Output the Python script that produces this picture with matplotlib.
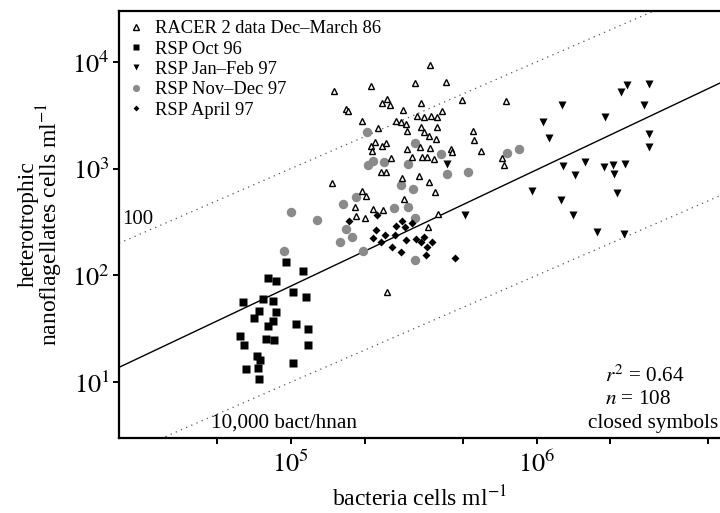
import matplotlib
matplotlib.use("Agg")
from matplotlib import pyplot as plt
import numpy as np

plt.rcParams['font.family'] = ['Liberation Serif', 'DejaVu Serif']
plt.rcParams['mathtext.fontset'] = 'stix'

# RACER 2 data Dec-March 86 (open triangles)
racer_bact = [1.50e5, 1.68e5, 1.71e5, 1.95e5, 2.12e5, 2.26e5, 2.35e5, 2.47e5, 2.54e5, 3.69e5,
              3.21e5, 4.29e5, 3.39e5, 4.99e5, 7.54e5, 2.86e5, 4.13e5, 3.27e5, 3.49e5, 3.73e5,
              3.94e5, 2.68e5, 2.81e5, 2.95e5, 3.39e5, 3.94e5, 2.97e5, 3.49e5, 3.66e5, 3.91e5,
              5.53e5, 5.58e5, 5.96e5, 2.20e5, 2.12e5, 2.35e5, 2.14e5, 2.44e5, 2.97e5, 3.36e5,
              3.69e5, 4.50e5, 4.54e5, 3.12e5, 3.42e5, 3.59e5, 3.83e5, 2.56e5, 7.26e5, 7.40e5,
              2.33e5, 2.44e5, 2.84e5, 3.33e5, 3.66e5, 3.87e5, 2.89e5, 1.47e5, 1.95e5, 2.02e5,
              1.82e5, 1.84e5, 2.00e5, 2.16e5, 2.37e5, 3.98e5, 3.62e5, 2.47e5]
racer_hnan = [5303, 3595, 3444, 2775, 5905, 2386, 4093, 4462, 3920, 9290,
              6300, 6440, 4093, 4367, 4274, 3519, 3444, 3092, 3026, 3092,
              3026, 2775, 2716, 2601, 2438, 2438, 2237, 2189, 2007, 1882,
              2237, 1842, 1453, 1764, 1618, 1618, 1453, 1727, 1517, 1583,
              1550, 1517, 1421, 1276, 1276, 1276, 1222, 1249, 1249, 1074,
              923, 923, 811, 847, 744, 600, 516, 728, 613, 550,
              434, 357, 342, 416, 407, 373, 282, 69.3]

# RSP Oct 96 (squares)
oct96_bact = [9.6e4, 1.12e5, 8.08e4, 8.74e4, 1.02e5, 1.155e5, 6.37e4, 7.7e4, 8.47e4, 7.4e4,
              8.69e4, 7.11e4, 8.47e4, 8.06e4, 1.05e5, 1.18e5, 6.23e4, 7.91e4, 8.55e4, 6.45e4,
              1.18e5, 7.29e4, 7.52e4, 1.02e5, 6.55e4, 7.38e4, 7.4e4]
oct96_hnan = [133, 110, 94, 89, 69.7, 62.2, 56.2, 59.6, 57.9, 46.7,
              45, 39.5, 37.6, 33.3, 35, 31.7, 26.8, 25.5, 24.8, 22.1,
              22.1, 17.5, 16.1, 15.0, 13.4, 13.5, 10.7]

# RSP Jan-Feb 97 (down triangles)
janfeb_bact = [2.33e6, 2.88e6, 2.21e6, 2.73e6, 1.27e6, 1.90e6, 1.06e6, 2.86e6, 1.12e6, 2.86e6,
               1.57e6, 1.28e6, 1.88e6, 2.04e6, 2.29e6, 1.44e6, 2.06e6, 9.6e5, 1.26e6, 2.12e6,
               1.41e6, 1.76e6, 2.26e6, 4.32e5, 5.12e5]
janfeb_hnan = [6075, 6210, 5225, 3945, 3920, 3045, 2735, 2110, 1923, 1608,
               1146, 1058, 1035, 1081, 1114, 879, 890, 617, 505, 587,
               371, 257, 246, 1114, 367]

# RSP Nov-Dec 97 (grey circles)
novdec_bact = [1.0e5, 1.28e5, 1.63e5, 1.84e5, 1.68e5, 1.77e5, 1.58e5, 9.36e4, 1.97e5, 2.04e5,
               2.06e5, 2.16e5, 2.40e5, 3.21e5, 3.0e5, 4.1e5, 4.33e5, 5.28e5, 2.81e5, 3.15e5,
               2.63e5, 3.0e5, 3.21e5, 3.21e5, 7.61e5, 8.52e5]
novdec_hnan = [389, 328, 463, 538, 270, 227, 204, 168, 168, 2189,
               1074, 1171, 1146, 1727, 1097, 1361, 884, 923, 698, 640,
               425, 434, 342, 138, 1391, 1517]

# RSP April 97 (diamonds)
apr97_bact = [1.72e5, 2.24e5, 2.84e5, 3.12e5, 2.68e5, 2.92e5, 2.22e5, 2.42e5, 2.66e5, 2.16e5,
              2.33e5, 2.95e5, 3.24e5, 3.49e5, 2.58e5, 2.81e5, 3.39e5, 3.76e5, 3.59e5, 3.56e5,
              4.67e5]
apr97_hnan = [321, 365, 321, 307, 288, 282, 264, 237, 237, 222,
              204, 213, 218, 227, 183, 164, 204, 204, 183, 157,
              147]

# regression on closed symbols (log-log)
fit_slope = 1.089
fit_intercept = -3.545
ratio_lines = [100, 10000]

fig = plt.figure(figsize=(7.2, 5.13), dpi=100)
ax = fig.add_axes([0.1653, 0.1462, 0.8347, 0.8324])
ax.set_xscale('log')
ax.set_yscale('log')
xmin, xmax = 2e4, 5.58e6
ymin, ymax = 3.0, 3.0e4
ax.set_xlim(xmin, xmax)
ax.set_ylim(ymin, ymax)

# lines
bx = np.logspace(np.log10(xmin), np.log10(xmax), 200)
ax.plot(bx, 10 ** fit_intercept * bx ** fit_slope, color='k', lw=1.0, zorder=2)
for r in ratio_lines:
    ax.plot(bx, bx / r, color='#555555', lw=0.9, linestyle=(0, (1, 3.5)), zorder=1)

# points
h_circ, = ax.plot(novdec_bact, novdec_hnan, 'o', ms=6.8, color='#8a8a8a', mec='none', zorder=3)
h_tri, = ax.plot(racer_bact, racer_hnan, '^', ms=5.0, mfc='white', mec='k', mew=1.0, zorder=4)
h_dia, = ax.plot(apr97_bact, apr97_hnan, 'D', ms=4.0, color='k', mec='none', zorder=5)
h_sq, = ax.plot(oct96_bact, oct96_hnan, 's', ms=5.2, color='k', mec='none', zorder=5)
h_down, = ax.plot(janfeb_bact, janfeb_hnan, 'v', ms=5.6, color='k', mec='none', zorder=5)

leg = ax.legend([h_tri, h_sq, h_down, h_circ, h_dia],
                ['RACER 2 data Dec\u2013March 86', 'RSP Oct 96', 'RSP Jan\u2013Feb 97',
                 'RSP Nov\u2013Dec 97', 'RSP April 97'],
                loc='upper left', frameon=False, fontsize=13.3, handlelength=0.8,
                handletextpad=0.65, labelspacing=0.18, borderaxespad=0.3,
                borderpad=0.2, markerscale=0.75)

# annotations
ax.text(0.005, 0.511, '100', transform=ax.transAxes, fontsize=15, ha='left', va='center')
ax.text(0.153, 0.035, '10,000 bact/hnan', transform=ax.transAxes, fontsize=15.3,
        ha='left', va='center')
ax.text(0.809, 0.145, '$r^{2}$ = 0.64', transform=ax.transAxes, fontsize=15.3,
        ha='left', va='center')
ax.text(0.809, 0.089, '$n$ = 108', transform=ax.transAxes, fontsize=15.3,
        ha='left', va='center')
ax.text(0.997, 0.033, 'closed symbols', transform=ax.transAxes, fontsize=15.3,
        ha='right', va='center')

# axes styling
ax.spines['right'].set_visible(False)
for s in ['top', 'left', 'bottom']:
    ax.spines[s].set_linewidth(1.6)

ax.set_xticks([1e5, 1e6])
ax.set_xticklabels(['$10^{5}$', '$10^{6}$'])
ax.set_xticks([5e4, 2e5, 5e5, 2e6, 5e6], minor=True)
ax.set_xticklabels([], minor=True)
ax.set_yticks([1e1, 1e2, 1e3, 1e4])
ax.set_yticklabels(['$10^{1}$', '$10^{2}$', '$10^{3}$', '$10^{4}$'])
ax.yaxis.set_minor_locator(matplotlib.ticker.NullLocator())
ax.tick_params(axis='both', which='both', direction='out', length=4.5, width=1.4,
               labelsize=19, top=False, right=False)
ax.tick_params(axis='x', pad=5)
ax.tick_params(axis='y', pad=2)

ax.set_xlabel('bacteria cells ml$^{-1}$', fontsize=17, labelpad=6)
ax.set_ylabel('heterotrophic\nnanoflagellates cells ml$^{-1}$', fontsize=17,
              labelpad=5, linespacing=0.85)

fig.savefig('out.png', dpi=100)
